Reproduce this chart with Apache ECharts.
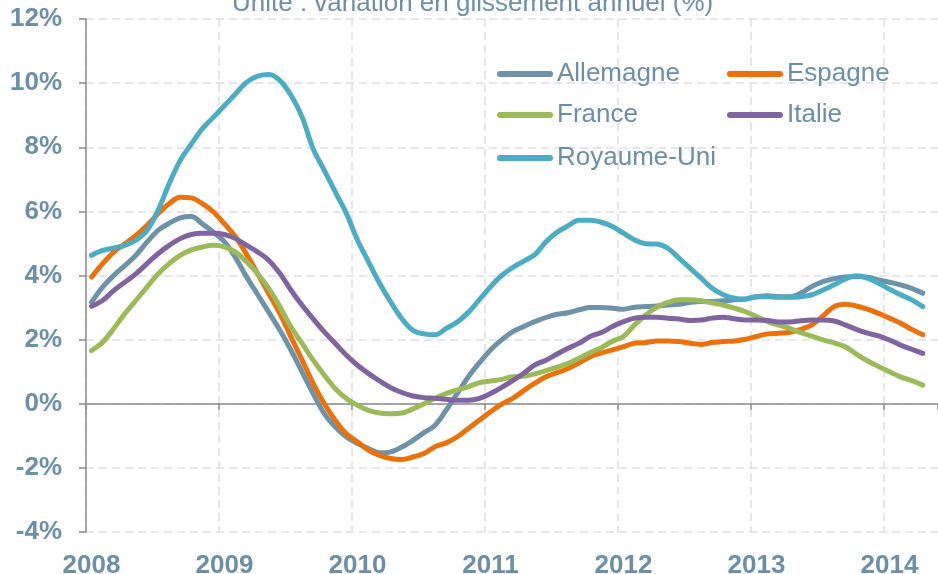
<!DOCTYPE html>
<html><head><meta charset="utf-8">
<script src="https://cdn.jsdelivr.net/npm/echarts@6/dist/echarts.min.js"></script>
<style>html,body{margin:0;padding:0;background:#fff}#c{width:938px;height:574px}</style>
</head><body><div id="c"></div>
<script>
const chartTitle = 'Unité : variation en glissement annuel (%)';
const seriesNames = ['Allemagne', 'Espagne', 'France', 'Italie', 'Royaume-Uni'];
const startYear = 2008; // monthly data, Jan 2008 .. Apr 2014
const yearTicks = [2008, 2009, 2010, 2011, 2012, 2013, 2014];
const yTicks = [-4, -2, 0, 2, 4, 6, 8, 10, 12];

const allemagne = [3.17,3.64,4.0,4.31,4.63,5.04,5.41,5.63,5.8,5.84,5.61,5.35,
  5.05,4.55,3.95,3.4,2.85,2.29,1.67,0.99,0.31,-0.31,-0.73,-1.04,
  -1.24,-1.4,-1.53,-1.5,-1.35,-1.14,-0.9,-0.67,-0.2,0.32,0.84,1.28,
  1.68,1.99,2.25,2.41,2.56,2.69,2.79,2.84,2.93,3.0,3.0,2.98,
  2.95,3.01,3.03,3.05,3.08,3.1,3.16,3.19,3.19,3.21,3.24,3.27,
  3.34,3.37,3.34,3.34,3.45,3.66,3.81,3.9,3.95,3.97,3.95,3.86,
  3.79,3.71,3.6,3.45];
const espagne = [3.95,4.37,4.73,4.99,5.25,5.56,5.93,6.24,6.44,6.42,6.24,5.98,
  5.61,5.2,4.65,4.05,3.43,2.81,2.08,1.36,0.63,0.0,-0.52,-0.94,
  -1.19,-1.45,-1.61,-1.71,-1.74,-1.66,-1.55,-1.34,-1.22,-1.03,-0.77,-0.51,
  -0.25,-0.01,0.17,0.41,0.64,0.84,0.97,1.1,1.28,1.47,1.59,1.68,
  1.78,1.89,1.91,1.96,1.96,1.94,1.89,1.85,1.91,1.94,1.96,2.01,
  2.1,2.18,2.2,2.23,2.32,2.46,2.74,3.03,3.1,3.05,2.95,2.82,
  2.67,2.51,2.32,2.15];
const france = [1.66,1.92,2.34,2.81,3.22,3.64,4.05,4.37,4.63,4.8,4.89,4.94,
  4.89,4.73,4.42,4.05,3.59,3.02,2.39,1.88,1.36,0.89,0.47,0.16,
  -0.05,-0.21,-0.29,-0.31,-0.29,-0.16,0.0,0.17,0.32,0.43,0.53,0.66,
  0.71,0.76,0.84,0.86,0.93,1.03,1.14,1.26,1.42,1.6,1.75,1.95,
  2.1,2.46,2.77,3.01,3.16,3.24,3.24,3.21,3.14,3.08,2.98,2.87,
  2.72,2.56,2.45,2.35,2.22,2.11,1.99,1.9,1.78,1.55,1.34,1.16,
  1.0,0.84,0.72,0.58];
const italie = [3.04,3.22,3.53,3.79,4.05,4.37,4.68,4.94,5.15,5.28,5.32,5.32,
  5.28,5.15,4.94,4.73,4.47,4.06,3.54,3.07,2.65,2.24,1.88,1.51,
  1.2,0.94,0.71,0.5,0.35,0.24,0.19,0.17,0.14,0.11,0.11,0.17,
  0.32,0.51,0.72,0.95,1.21,1.36,1.55,1.73,1.89,2.1,2.22,2.41,
  2.56,2.67,2.7,2.7,2.67,2.64,2.6,2.61,2.67,2.7,2.65,2.61,
  2.61,2.6,2.55,2.55,2.59,2.61,2.61,2.58,2.46,2.32,2.2,2.12,
  1.99,1.83,1.7,1.57];
const royaumeUni = [4.63,4.78,4.86,4.94,5.1,5.4,6.03,6.86,7.59,8.1,8.58,8.94,
  9.3,9.67,10.03,10.22,10.27,10.08,9.62,8.94,7.95,7.28,6.6,5.93,
  5.1,4.42,3.75,3.17,2.65,2.29,2.18,2.15,2.35,2.55,2.85,3.25,
  3.65,4.0,4.25,4.45,4.65,5.05,5.35,5.55,5.72,5.72,5.66,5.53,
  5.32,5.11,4.99,4.98,4.85,4.54,4.23,3.92,3.6,3.4,3.29,3.26,
  3.34,3.34,3.32,3.32,3.34,3.4,3.55,3.71,3.89,3.99,3.92,3.76,
  3.57,3.4,3.24,3.03];

const seriesValues = [allemagne, espagne, france, italie, royaumeUni];
const colors = ['#6D93AB', '#EE7008', '#9BBB59', '#8064A2', '#4BACC6'];
const textColor = '#6B8FA8';
const font = 'Liberation Sans, Arial, sans-serif';
const gridColor = '#E3DCEC';

const toPoints = arr => arr.map((v, i) => [startYear + (i + 0.5) / 12, v]);

const legendPos = [[497, 61], [727, 61], [497, 102], [727, 102], [497, 145]];
const capsule = 'path://M3,0L53,0A3,3,0,0,1,53,6L3,6A3,3,0,0,1,3,0Z';

const chart = echarts.init(document.getElementById('c'), null, {renderer: 'canvas'});
chart.setOption({
  animation: false,
  backgroundColor: '#fff',
  color: colors,
  title: {
    text: chartTitle, left: 232, top: -9, padding: 0,
    textStyle: {fontFamily: font, fontSize: 26, fontWeight: 'normal', color: textColor}
  },
  legend: seriesNames.map((n, k) => ({
    data: [n], left: legendPos[k][0], top: legendPos[k][1], padding: 0,
    icon: capsule, itemWidth: 56, itemHeight: 6, itemGap: 0,
    textStyle: {fontFamily: font, fontSize: 26, color: textColor, padding: [0, 0, 0, -1]}
  })),
  grid: {left: 86, right: 0, top: 19, bottom: 42, containLabel: false, outerBoundsMode: 'none'},
  xAxis: [{
    type: 'value', min: yearTicks[0], max: 2014.406, interval: 1, position: 'bottom',
    axisLine: {show: false, onZero: false}, axisTick: {show: false},
    axisLabel: {
      showMaxLabel: false, margin: 21, padding: [0, 0, 0, 11],
      formatter: v => yearTicks.includes(v) ? String(v) : '',
      fontFamily: font, fontSize: 26, fontWeight: 'bold', color: textColor
    },
    splitLine: {show: true, showMaxLine: false, lineStyle: {color: gridColor, width: 1.5, type: [8, 5]}}
  }, {
    type: 'value', min: yearTicks[0], max: 2014.406, interval: 1, position: 'bottom',
    axisLine: {show: true, onZero: true, lineStyle: {color: '#8C8C8C', width: 1.5}},
    axisTick: {show: true, length: 6, lineStyle: {color: '#8C8C8C', width: 1.5}},
    axisLabel: {show: false}, splitLine: {show: false}
  }],
  yAxis: {
    type: 'value', min: yTicks[0], max: yTicks[yTicks.length - 1], interval: 2,
    axisLine: {show: true, onZero: false, lineStyle: {color: '#8C8C8C', width: 1.5}},
    axisTick: {show: true, length: 7, lineStyle: {color: '#8C8C8C', width: 1.5}},
    axisLabel: {formatter: '{value}%', margin: 24, fontFamily: font, fontSize: 26, fontWeight: 'bold', color: textColor},
    splitLine: {show: true, lineStyle: {color: gridColor, width: 1.5, type: [8, 5]}}
  },
  series: seriesNames.map((n, k) => ({
    name: n, type: 'line', xAxisIndex: 0, data: toPoints(seriesValues[k]),
    smooth: 0.35, symbol: 'none',
    lineStyle: {width: 5, color: colors[k], cap: 'round', join: 'round'},
    itemStyle: {color: colors[k]}
  }))
});
</script>
</body></html>
